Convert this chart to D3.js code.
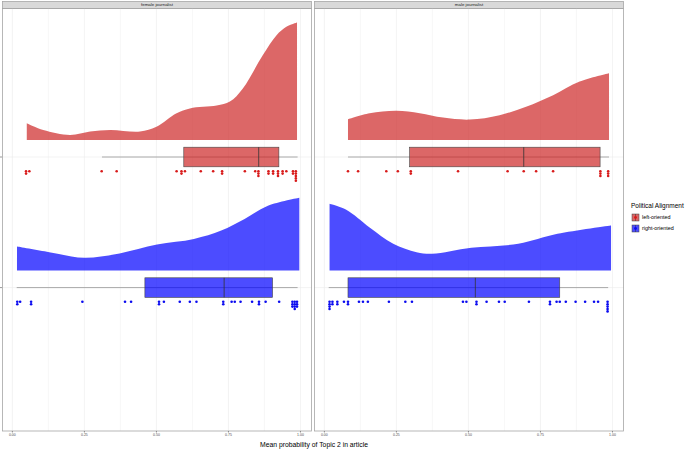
<!DOCTYPE html>
<html><head><meta charset="utf-8">
<script src="https://cdn.jsdelivr.net/npm/d3@7"></script>
<style>body{margin:0;background:#fff}svg{display:block;font-family:"Liberation Sans",Arial,Helvetica,sans-serif}</style>
</head><body><svg id="c" width="685" height="449"></svg>
<script>
const panels = ["female journalist", "male journalist"];
const groups = ["left-oriented", "right-oriented"];
const groupColors = ["#cd2626", "#0000ff"];
const dotColors = ["#d81a1a", "#0a0aef"];
const xTicks = [0, 0.25, 0.5, 0.75, 1];
const xTickLabels = ["0.00", "0.25", "0.50", "0.75", "1.00"];
const gridBreaks = [0, 0.125, 0.25, 0.375, 0.5, 0.625, 0.75, 0.875, 1];
const xTitle = "Mean probability of Topic 2 in article";
const legendTitle = "Political Alignment";

// density estimates [value, density]
const densFemaleLeft = [[0.05,0.42],[0.107,0.25],[0.20,0.125],[0.27,0.21],[0.34,0.25],[0.443,0.21],[0.50,0.33],[0.57,0.67],[0.616,0.79],[0.709,0.86],[0.755,0.96],[0.80,1.29],[0.869,2.12],[0.917,2.62],[0.951,2.83],[0.988,2.94]];
const densFemaleRight = [[0.016,0.60],[0.128,0.46],[0.25,0.32],[0.372,0.43],[0.502,0.65],[0.63,0.79],[0.725,1.0],[0.806,1.29],[0.887,1.62],[0.996,1.82]];
const densMaleLeft = [[0.082,0.52],[0.157,0.67],[0.25,0.73],[0.331,0.67],[0.412,0.56],[0.505,0.51],[0.608,0.62],[0.70,0.83],[0.794,1.12],[0.886,1.46],[0.988,1.67]];
const densMaleRight = [[0.018,1.67],[0.076,1.52],[0.157,1.08],[0.239,0.67],[0.32,0.46],[0.374,0.42],[0.51,0.57],[0.673,0.67],[0.809,0.92],[0.995,1.13]];

// box stats [lower whisker, q1, median, q3, upper whisker]
const boxFemaleLeft = [0.311, 0.595, 0.855, 0.925, 0.99];
const boxFemaleRight = [0.015, 0.46, 0.735, 0.903, 0.99];
const boxMaleLeft = [0.082, 0.296, 0.692, 0.957, 0.988];
const boxMaleRight = [0.015, 0.082, 0.524, 0.817, 0.985];

// individual article values
const ptsFemaleLeft = [0.0475,0.0475,0.059,0.31,0.362,0.57,0.587,0.587,0.599,0.654,0.697,0.728,0.728,0.807,0.843,0.854,0.854,0.854,0.889,0.889,0.905,0.905,0.922,0.922,0.922,0.938,0.938,0.951,0.974,0.974,0.984,0.984,0.984,0.984,0.984];
const ptsFemaleRight = [0.017,0.017,0.027,0.065,0.065,0.243,0.391,0.412,0.509,0.509,0.526,0.581,0.616,0.639,0.732,0.732,0.761,0.772,0.792,0.832,0.856,0.856,0.879,0.926,0.972,0.972,0.972,0.98,0.98,0.98,0.98,0.988,0.988,0.988];
const ptsMaleLeft = [0.082,0.117,0.215,0.255,0.30,0.30,0.464,0.636,0.692,0.735,0.794,0.958,0.958,0.958,0.985,0.985,0.985];
const ptsMaleRight = [0.018,0.018,0.018,0.018,0.028,0.028,0.045,0.045,0.068,0.082,0.082,0.12,0.134,0.151,0.224,0.281,0.304,0.481,0.493,0.528,0.528,0.563,0.606,0.626,0.71,0.783,0.783,0.806,0.817,0.838,0.872,0.905,0.936,0.95,0.983,0.983,0.983,0.983,0.983];

const panelData = [
  {dens:[densFemaleLeft, densFemaleRight], box:[boxFemaleLeft, boxFemaleRight], pts:[ptsFemaleLeft, ptsFemaleRight]},
  {dens:[densMaleLeft, densMaleRight], box:[boxMaleLeft, boxMaleRight], pts:[ptsMaleLeft, ptsMaleRight]}
];

const svg = d3.select("#c");
const panelX = [2, 314], panelW = 310, panelTop = 8.5, panelBottom = 431, stripTop = 1;
const y = d3.scalePoint().domain(groups).range([157, 287.6]);
const dScale = d3.scaleLinear().domain([0, 3]).range([0, 120]);

panels.forEach((name, pi) => {
  const x0 = panelX[pi];
  const x = d3.scaleLinear().domain([-0.036, 1.04]).range([x0, x0 + panelW]);
  const g = svg.append("g");
  // strip
  g.append("rect").attr("x", x0 + 0.5).attr("y", stripTop + 0.5).attr("width", panelW - 1).attr("height", panelTop - stripTop - 0.5)
    .attr("fill", "#d9d9d9").attr("stroke", "#a6a6a6").attr("stroke-width", 0.8);
  g.append("text").attr("x", x0 + panelW / 2).attr("y", 6.2).attr("text-anchor", "middle")
    .attr("font-size", 4.4).attr("fill", "#1a1a1a").text(name);
  // grid
  g.selectAll(".vg").data(gridBreaks).join("line").attr("x1", d => x(d)).attr("x2", d => x(d))
    .attr("y1", panelTop).attr("y2", panelBottom).attr("stroke", (d, i) => i % 2 ? "#f2f2f2" : "#ebebeb").attr("stroke-width", 0.6);
  g.selectAll(".hg").data(groups).join("line").attr("x1", x0).attr("x2", x0 + panelW)
    .attr("y1", d => y(d)).attr("y2", d => y(d)).attr("stroke", "#ebebeb").attr("stroke-width", 0.6);

  groups.forEach((grp, gi) => {
    const cy = y(grp);
    const base = cy - 17;
    const dens = panelData[pi].dens[gi];
    const area = d3.area().x(d => x(d[0])).y0(base).y1(d => base - dScale(d[1])).curve(d3.curveCatmullRom);
    g.append("path").attr("d", area(dens)).attr("fill", groupColors[gi]).attr("fill-opacity", 0.7);
    // box
    const b = panelData[pi].box[gi];
    g.append("line").attr("x1", x(b[0])).attr("x2", x(b[4])).attr("y1", cy).attr("y2", cy)
      .attr("stroke", "#a0a0a0").attr("stroke-width", 0.9);
    g.append("rect").attr("x", x(b[1])).attr("y", cy - 9.8).attr("width", x(b[3]) - x(b[1])).attr("height", 19.6)
      .attr("fill", groupColors[gi]).attr("fill-opacity", 0.7).attr("stroke", "#444").attr("stroke-width", 0.6);
    g.append("line").attr("x1", x(b[2])).attr("x2", x(b[2])).attr("y1", cy - 9.8).attr("y2", cy + 9.8)
      .attr("stroke", "#333").attr("stroke-width", 0.8);
    // dots stacked
    const counts = new Map();
    const dots = panelData[pi].pts[gi].map(v => {
      const k = counts.get(v) || 0; counts.set(v, k + 1); return {v, k};
    });
    g.selectAll(null).data(dots).join("circle").attr("cx", d => x(d.v)).attr("cy", d => cy + 14.2 + d.k * 2.4)
      .attr("r", 1.3).attr("fill", dotColors[gi]);
  });

  // panel border
  g.append("rect").attr("x", x0 + 0.5).attr("y", panelTop).attr("width", panelW - 1).attr("height", panelBottom - panelTop)
    .attr("fill", "none").attr("stroke", "#a6a6a6").attr("stroke-width", 0.8);
  // x axis
  g.selectAll(".xt").data(xTicks).join("line").attr("x1", d => x(d)).attr("x2", d => x(d))
    .attr("y1", panelBottom).attr("y2", panelBottom + 1.5).attr("stroke", "#333").attr("stroke-width", 0.5);
  g.selectAll(".xl").data(xTicks).join("text").attr("x", d => x(d)).attr("y", 436)
    .attr("text-anchor", "middle").attr("font-size", 3.5).attr("fill", "#4d4d4d").text((d, i) => xTickLabels[i]);
});

// y ticks (no labels)
svg.selectAll(".yt").data(groups).join("line").attr("x1", 0).attr("x2", 2).attr("y1", d => y(d)).attr("y2", d => y(d))
  .attr("stroke", "#333").attr("stroke-width", 0.5);

svg.append("text").attr("x", 314).attr("y", 446.5).attr("text-anchor", "middle").attr("font-size", 6.8)
  .attr("fill", "#000").text(xTitle);

// legend
const lg = svg.append("g");
lg.append("text").attr("x", 631).attr("y", 208).attr("font-size", 6.5).attr("fill", "#000").text(legendTitle);
groups.forEach((grp, gi) => {
  const ky = 214 + gi * 11;
  lg.append("rect").attr("x", 632).attr("y", ky).attr("width", 7).attr("height", 7)
    .attr("fill", groupColors[gi]).attr("fill-opacity", 0.7).attr("stroke", "#444").attr("stroke-width", 0.5);
  lg.append("line").attr("x1", 635.5).attr("x2", 635.5).attr("y1", ky).attr("y2", ky + 7).attr("stroke", "#333").attr("stroke-width", 0.5);
  lg.append("circle").attr("cx", 635.5).attr("cy", ky + 3.5).attr("r", 1.4).attr("fill", dotColors[gi]);
  lg.append("text").attr("x", 642).attr("y", ky + 5.3).attr("font-size", 5.4).attr("fill", "#000").text(grp);
});
</script></body></html>
